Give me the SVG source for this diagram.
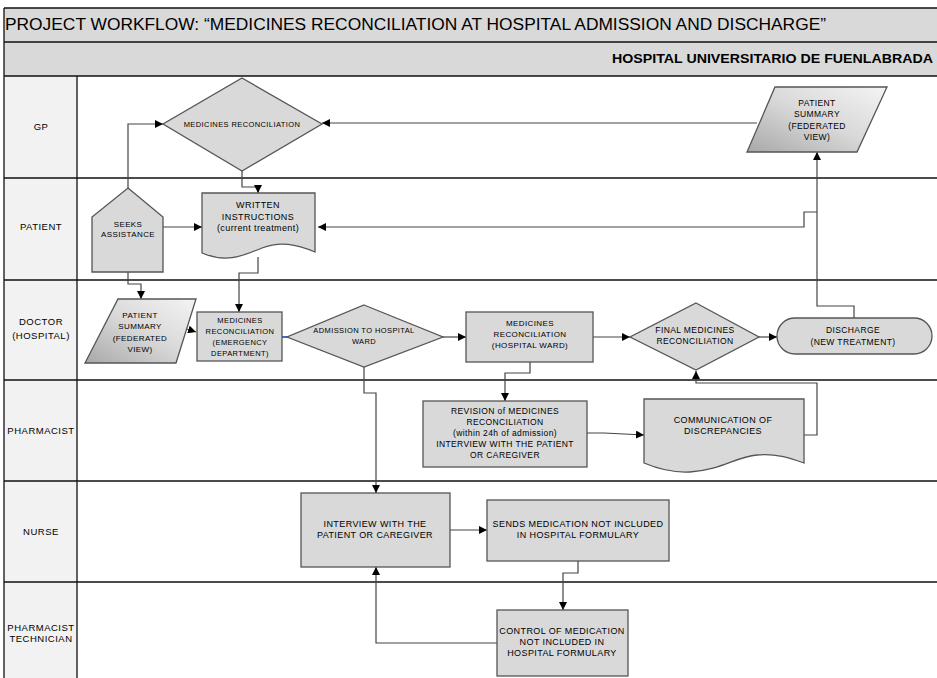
<svg xmlns="http://www.w3.org/2000/svg" width="937" height="678" viewBox="0 0 937 678">
  <defs>
    <style>
      text { font-family: "Liberation Sans", Arial, sans-serif; fill: #000; }
      .lbl { font-size: 9.5px; text-anchor: middle; letter-spacing: 0.5px; }
      .t { text-anchor: middle; letter-spacing: 0.4px; }
      .s7 { font-size: 7.5px; }
      .s8 { font-size: 8px; }
      .s85 { font-size: 8.5px; }
      .s9 { font-size: 9px; }
      .grid { stroke: #111; stroke-width: 1.3; fill: none; }
      .node { fill: #d9d9d9; stroke: #555; stroke-width: 1.3; }
      .pg { fill: url(#pgGrad); stroke: #555; stroke-width: 1.3; }
      .conn { fill: none; stroke: #444; stroke-width: 1.2; }
    </style>
    <linearGradient id="pgGrad" x1="1" y1="0" x2="0" y2="1">
      <stop offset="0" stop-color="#f4f4f4"/>
      <stop offset="0.5" stop-color="#d8d8d8"/>
      <stop offset="1" stop-color="#a8a8a8"/>
    </linearGradient>
    <marker id="arrow" viewBox="0 0 10 10" refX="10" refY="5" markerWidth="8" markerHeight="8" markerUnits="userSpaceOnUse" orient="auto">
      <path d="M0,0 L10,5 L0,10 Z" fill="#000"/>
    </marker>
  </defs>

  <rect width="937" height="678" fill="#fff"/>

  <!-- header bars -->
  <g id="header">
    <rect x="4" y="8" width="940" height="34" fill="#d9d9d9"/>
    <rect x="4" y="42" width="940" height="34" fill="#d9d9d9"/>
    <text x="5" y="30" font-size="16" textLength="821" lengthAdjust="spacingAndGlyphs">PROJECT WORKFLOW: “MEDICINES RECONCILIATION AT HOSPITAL ADMISSION AND DISCHARGE”</text>
    <text x="612" y="63" font-size="12.5" font-weight="bold" textLength="321" lengthAdjust="spacingAndGlyphs">HOSPITAL UNIVERSITARIO DE FUENLABRADA</text>
  </g>

  <!-- swimlanes -->
  <g id="lanes">
    <rect x="4" y="76" width="73" height="602" fill="#f2f2f2"/>
    <path class="grid" d="M4,8 H940 M4,42 H940 M4,76 H940 M4,178 H940 M4,280 H940 M4,380 H940 M4,481 H940 M4,582 H940 M4,8 V678 M77,76 V678"/>
    <text class="lbl" x="41" y="130">GP</text>
    <text class="lbl" x="41" y="230">PATIENT</text>
    <text class="lbl" x="41" y="325">DOCTOR</text>
    <text class="lbl" x="41" y="339">(HOSPITAL)</text>
    <text class="lbl" x="41" y="434">PHARMACIST</text>
    <text class="lbl" x="41" y="535">NURSE</text>
    <text class="lbl" x="41" y="631">PHARMACIST</text>
    <text class="lbl" x="41" y="642">TECHNICIAN</text>
  </g>

  <!-- connectors -->
  <g id="connectors">
    <path class="conn" d="M757,123 H322" marker-end="url(#arrow)"/>
    <path class="conn" d="M128,188 V124 H163" marker-end="url(#arrow)"/>
    <path class="conn" d="M242,171 V187 H258 V193" marker-end="url(#arrow)"/>
    <path class="conn" d="M163,227 H202" marker-end="url(#arrow)"/>
    <path class="conn" d="M817,212 H804 V227 H318" marker-end="url(#arrow)"/>
    <path class="conn" d="M128,272 V284 H141 V299" marker-end="url(#arrow)"/>
    <path class="conn" d="M258,257 V273 H239 V312" marker-end="url(#arrow)"/>
    <path class="conn" d="M181,327 L196,332" marker-end="url(#arrow)"/>
    <path d="M282,337 H288" stroke="#1f3fd0" stroke-width="1.6" fill="none"/>
    <path class="conn" d="M443,337 H466" marker-end="url(#arrow)"/>
    <path class="conn" d="M593,337 H630" marker-end="url(#arrow)"/>
    <path class="conn" d="M759,337 H777" marker-end="url(#arrow)"/>
    <path class="conn" d="M854,318 V306 H817 V152" marker-end="url(#arrow)"/>
    <path class="conn" d="M530,362 V373 H505 V401" marker-end="url(#arrow)"/>
    <path class="conn" d="M364,367 V393 H376 V493" marker-end="url(#arrow)"/>
    <path class="conn" d="M587,433 H604 L644,435" marker-end="url(#arrow)"/>
    <path class="conn" d="M804,435 H817 V383 H696 V371" marker-end="url(#arrow)"/>
    <path class="conn" d="M450,530 H487" marker-end="url(#arrow)"/>
    <path class="conn" d="M578,561 V573 H563 V610" marker-end="url(#arrow)"/>
    <path class="conn" d="M497,643 H376 V567" marker-end="url(#arrow)"/>
  </g>

  <!-- GP lane -->
  <g id="gp-reconciliation">
    <polygon class="node" points="242,78 322,124 242,171 163,124"/>
    <text class="t s7" x="242" y="127">MEDICINES RECONCILIATION</text>
  </g>
  <g id="gp-patient-summary">
    <polygon class="pg" points="775,87 887,87 857,152 747,152"/>
    <text class="t s85" x="817" y="106">PATIENT</text>
    <text class="t s85" x="817" y="117">SUMMARY</text>
    <text class="t s85" x="817" y="129">(FEDERATED</text>
    <text class="t s85" x="817" y="140">VIEW)</text>
  </g>

  <!-- Patient lane -->
  <g id="seeks-assistance">
    <polygon class="node" points="128,188 163,217 163,272 92,272 92,217"/>
    <text class="t s8" x="128" y="227">SEEKS</text>
    <text class="t s8" x="128" y="237">ASSISTANCE</text>
  </g>
  <g id="written-instructions">
    <path class="node" d="M202,193 H315 V252 C296,244 280,241 262,248 C244,255 228,264 202,253 Z"/>
    <text class="t s9" x="258" y="208">WRITTEN</text>
    <text class="t s9" x="258" y="220">INSTRUCTIONS</text>
    <text class="t s9" x="258" y="231">(current treatment)</text>
  </g>

  <!-- Doctor lane -->
  <g id="doctor-patient-summary">
    <polygon class="pg" points="118,299 196,299 176,363 85,363"/>
    <text class="t s8" x="140" y="318">PATIENT</text>
    <text class="t s8" x="140" y="329">SUMMARY</text>
    <text class="t s8" x="140" y="341">(FEDERATED</text>
    <text class="t s8" x="140" y="352">VIEW)</text>
  </g>
  <g id="reconciliation-emergency">
    <rect class="node" x="197" y="312" width="85" height="49"/>
    <text class="t s7" x="240" y="323">MEDICINES</text>
    <text class="t s7" x="240" y="334">RECONCILIATION</text>
    <text class="t s7" x="240" y="345">(EMERGENCY</text>
    <text class="t s7" x="240" y="356">DEPARTMENT)</text>
  </g>
  <g id="admission-ward">
    <polygon class="node" points="364,305 443,337 364,367 287,337"/>
    <text class="t s7" x="364" y="333">ADMISSION TO  HOSPITAL</text>
    <text class="t s7" x="364" y="344">WARD</text>
  </g>
  <g id="reconciliation-ward">
    <rect class="node" x="466" y="312" width="127" height="50"/>
    <text class="t s8" x="530" y="326">MEDICINES</text>
    <text class="t s8" x="530" y="337">RECONCILIATION</text>
    <text class="t s8" x="530" y="348">(HOSPITAL WARD)</text>
  </g>
  <g id="final-reconciliation">
    <polygon class="node" points="696,303 759,337 696,370 630,337"/>
    <text class="t s85" x="695" y="333">FINAL MEDICINES</text>
    <text class="t s85" x="695" y="344">RECONCILIATION</text>
  </g>
  <g id="discharge">
    <rect class="node" x="777" y="318" width="155" height="36" rx="18" ry="18"/>
    <text class="t s85" x="853" y="333">DISCHARGE</text>
    <text class="t s85" x="853" y="345">(NEW TREATMENT)</text>
  </g>

  <!-- Pharmacist lane -->
  <g id="revision">
    <rect class="node" x="423" y="401" width="164" height="66"/>
    <text class="t s85" x="505" y="414">REVISION of MEDICINES</text>
    <text class="t s85" x="505" y="425">RECONCILIATION</text>
    <text class="t s85" x="505" y="436">(within 24h of admission)</text>
    <text class="t s85" x="505" y="447">INTERVIEW WITH THE PATIENT</text>
    <text class="t s85" x="505" y="458">OR CAREGIVER</text>
  </g>
  <g id="discrepancies">
    <path class="node" d="M644,399 H804 V463 C790,458 775,453 757,455 C735,457 722,470 690,472 C672,473 656,468 644,463 Z"/>
    <text class="t s9" x="723" y="423">COMMUNICATION OF</text>
    <text class="t s9" x="723" y="434">DISCREPANCIES</text>
  </g>

  <!-- Nurse lane -->
  <g id="interview">
    <rect class="node" x="301" y="493" width="149" height="74"/>
    <text class="t s9" x="375" y="527">INTERVIEW WITH THE</text>
    <text class="t s9" x="375" y="538">PATIENT OR CAREGIVER</text>
  </g>
  <g id="sends-medication">
    <rect class="node" x="487" y="500" width="182" height="61"/>
    <text class="t s9" x="578" y="527">SENDS MEDICATION NOT INCLUDED</text>
    <text class="t s9" x="578" y="538">IN HOSPITAL FORMULARY</text>
  </g>

  <!-- Pharmacist technician lane -->
  <g id="control-medication">
    <rect class="node" x="497" y="610" width="131" height="66"/>
    <text class="t s9" x="562" y="634">CONTROL OF MEDICATION</text>
    <text class="t s9" x="562" y="645">NOT INCLUDED IN</text>
    <text class="t s9" x="562" y="656">HOSPITAL FORMULARY</text>
  </g>
</svg>
